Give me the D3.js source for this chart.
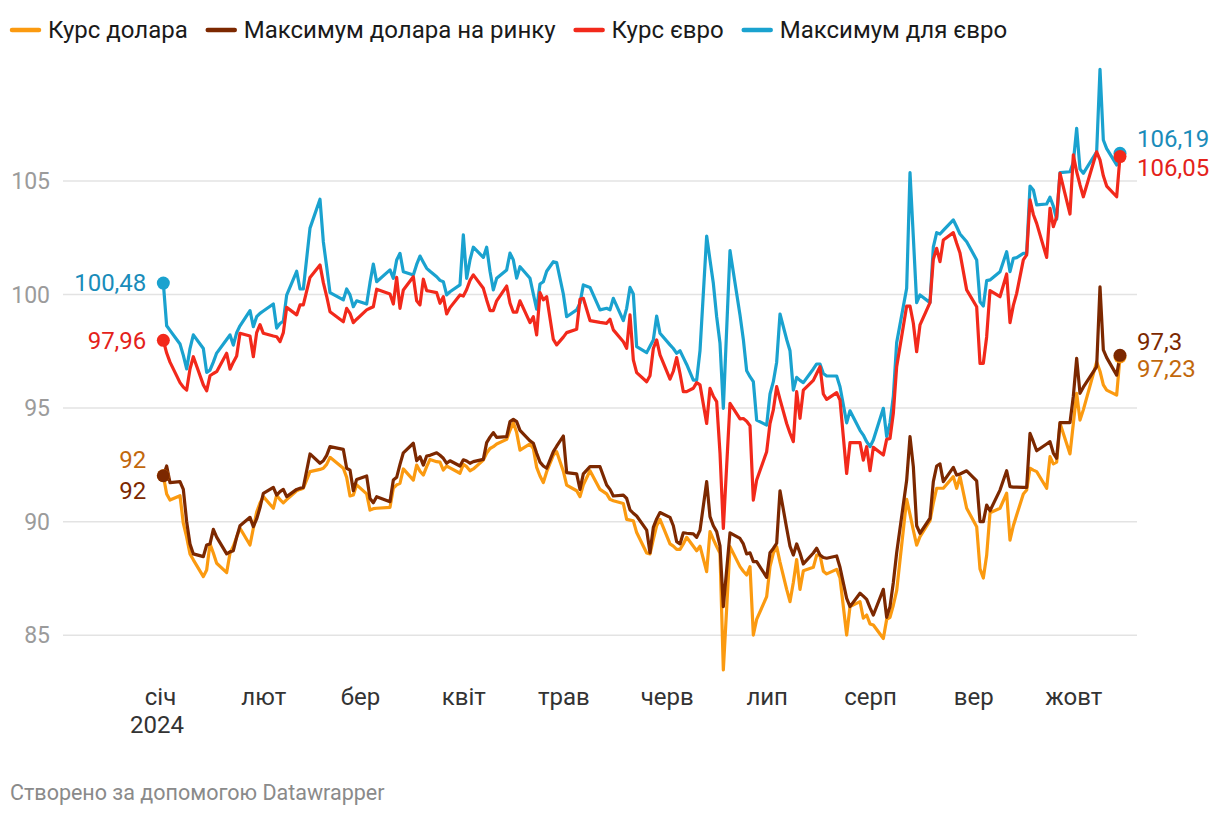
<!DOCTYPE html>
<html><head><meta charset="utf-8">
<script src="https://cdn.jsdelivr.net/npm/d3@7"></script>
<style>
body{margin:0;background:#fff;}
svg{font-family:Roboto,"Noto Sans",sans-serif;}
</style>
</head><body>
<svg id="chart" width="1220" height="816"></svg>
<script>
const dates = ["2024-01-02","2024-01-03","2024-01-04","2024-01-07","2024-01-08","2024-01-09","2024-01-10","2024-01-11","2024-01-14","2024-01-15","2024-01-16","2024-01-17","2024-01-18","2024-01-21","2024-01-22","2024-01-23","2024-01-24","2024-01-25","2024-01-28","2024-01-29","2024-01-30","2024-01-31",
"2024-02-01","2024-02-04","2024-02-05","2024-02-06","2024-02-07","2024-02-08","2024-02-11","2024-02-12","2024-02-13","2024-02-15","2024-02-18","2024-02-19","2024-02-20","2024-02-21","2024-02-25","2024-02-26","2024-02-27","2024-02-28","2024-02-29",
"2024-03-03","2024-03-04","2024-03-05","2024-03-06","2024-03-10","2024-03-11","2024-03-12","2024-03-13","2024-03-14","2024-03-17","2024-03-18","2024-03-19","2024-03-20","2024-03-21","2024-03-22","2024-03-24","2024-03-25","2024-03-26","2024-03-27","2024-03-28","2024-03-31",
"2024-04-01","2024-04-02","2024-04-03","2024-04-04","2024-04-07","2024-04-08","2024-04-09","2024-04-10","2024-04-11","2024-04-14","2024-04-15","2024-04-16","2024-04-17","2024-04-18","2024-04-21","2024-04-22","2024-04-23","2024-04-24","2024-04-25","2024-04-26","2024-04-28","2024-04-29",
"2024-05-01","2024-05-02","2024-05-05","2024-05-06","2024-05-07","2024-05-09","2024-05-12","2024-05-14","2024-05-15","2024-05-16","2024-05-19","2024-05-20","2024-05-21","2024-05-22","2024-05-23","2024-05-26","2024-05-27","2024-05-28","2024-05-29","2024-05-30",
"2024-06-02","2024-06-03","2024-06-04","2024-06-05","2024-06-06","2024-06-07","2024-06-09","2024-06-10","2024-06-11","2024-06-13","2024-06-14","2024-06-15","2024-06-16","2024-06-17","2024-06-18","2024-06-20","2024-06-23","2024-06-24","2024-06-25","2024-06-26","2024-06-27","2024-06-28",
"2024-07-01","2024-07-02","2024-07-03","2024-07-04","2024-07-05","2024-07-07","2024-07-08","2024-07-09","2024-07-10","2024-07-11","2024-07-12","2024-07-15","2024-07-16","2024-07-17","2024-07-18","2024-07-19","2024-07-22","2024-07-23","2024-07-25","2024-07-26","2024-07-29","2024-07-30","2024-07-31",
"2024-08-01","2024-08-02","2024-08-05","2024-08-06","2024-08-07","2024-08-08","2024-08-09","2024-08-12","2024-08-13","2024-08-14","2024-08-15","2024-08-16","2024-08-19","2024-08-20","2024-08-21","2024-08-22","2024-08-23","2024-08-26","2024-08-27","2024-08-28","2024-08-30",
"2024-09-02","2024-09-03","2024-09-04","2024-09-05","2024-09-06","2024-09-09","2024-09-11","2024-09-12","2024-09-13","2024-09-14","2024-09-16","2024-09-17","2024-09-18","2024-09-19","2024-09-20","2024-09-23","2024-09-24","2024-09-25","2024-09-26","2024-09-27","2024-09-30",
"2024-10-01","2024-10-02","2024-10-03","2024-10-04","2024-10-08","2024-10-09","2024-10-10","2024-10-11","2024-10-14","2024-10-15"];

// Максимум для євро
const eurMax = [100.48,98.6,98.4,97.8,97.3,96.7,97.6,98.2,97.6,96.55,96.65,97.0,97.4,98.0,98.2,97.75,98.3,98.6,99.27,98.56,99.0,99.15,
99.25,99.56,98.5,98.7,98.8,99.95,101.0,100.22,100.22,102.9,104.17,102.3,101.2,100.06,99.74,100.22,99.96,99.44,99.7,
99.56,100.5,101.32,100.54,101.06,100.69,101.5,101.79,100.98,100.84,101.3,101.67,101.4,101.13,101.0,100.76,100.6,100.54,99.96,100.1,100.4,
102.6,100.69,101.5,102.06,101.61,102.06,101.0,100.18,100.69,101.06,101.8,101.5,100.7,101.2,100.69,100.0,99.33,100.44,100.54,101.0,101.42,101.38,
100.0,99.0,99.3,99.6,100.4,100.29,99.3,99.37,99.3,99.81,98.83,99.37,100.29,100.0,97.68,97.42,97.7,97.98,99.03,98.27,
97.76,97.6,97.39,97.5,97.2,96.9,96.21,96.21,97.5,102.55,101.5,100.47,99.0,97.83,94.97,101.91,99.08,98.0,96.62,96.36,96.14,94.45,
94.23,95.6,96.14,97.0,99.12,98.0,97.5,95.77,96.33,96.2,96.1,96.7,96.92,96.92,96.5,96.39,96.39,95.92,94.33,94.86,94.0,93.79,93.5,
93.28,93.57,94.97,93.72,94.33,95.5,97.86,100.25,105.34,102.5,99.62,99.96,99.62,102.06,102.7,102.64,102.8,103.26,102.96,102.64,102.3,
101.5,99.66,99.47,100.59,100.62,100.98,101.86,100.98,101.57,101.6,101.79,101.8,104.75,104.58,103.92,103.96,104.26,103.87,103.29,105.34,105.38,
105.8,107.29,105.5,105.31,106.26,109.89,106.78,106.4,105.68,106.19];

// Курс євро
const eurRate = [97.96,97.4,97.0,96.1,95.9,95.77,96.7,97.24,96.0,95.74,96.4,96.5,96.58,97.39,96.69,97.0,97.27,98.27,98.15,97.24,98.3,98.65,
98.27,98.15,98.12,97.9,98.3,99.41,99.08,99.52,99.52,100.73,101.28,100.5,99.9,99.22,98.78,99.37,99.15,98.74,98.89,
99.3,99.37,99.44,100.21,100.0,99.56,100.73,99.37,100.18,100.76,99.7,99.52,100.65,100.15,100.12,100.06,99.59,99.88,99.12,99.4,99.96,
99.91,100.2,100.6,100.84,100.25,99.74,99.27,99.27,99.7,100.35,99.6,99.2,99.2,99.7,98.74,99.0,98.2,100.06,99.74,99.88,98.0,97.76,
98.1,98.3,98.45,99.77,99.81,98.83,98.75,98.71,98.89,98.42,97.9,97.61,99.08,97.1,96.54,96.14,96.4,97.6,97.98,97.32,
96.25,96.6,97.2,96.5,95.7,95.7,95.85,96.1,96.0,94.3,95.85,95.5,95.26,93.0,89.68,95.19,94.5,94.52,94.4,94.2,90.93,91.81,
93.06,94.3,94.9,95.92,95.36,94.3,93.87,93.5,95.7,94.53,95.77,96.2,96.5,96.8,95.6,95.36,95.66,95.33,92.1,93.46,93.46,92.69,93.28,
92.22,93.25,92.91,93.6,93.64,94.75,96.8,99.47,99.47,98.71,97.46,98.64,99.62,101.53,102.01,101.42,102.38,102.7,102.23,101.8,100.18,
99.44,96.95,96.95,98.12,100.15,99.88,100.88,98.74,99.5,100.03,101.5,101.72,104.14,103.5,103.11,101.61,103.77,102.96,103.4,105.31,103.52,
106.12,105.38,104.8,104.28,106.26,105.9,105.2,104.75,104.28,106.05];

// Максимум долара на ринку
const usdMax = [92.0,92.43,91.7,91.74,91.4,89.98,89.0,88.56,88.44,88.95,89.0,89.64,89.3,88.56,88.65,88.7,89.3,89.8,90.17,89.76,90.1,90.6,
91.23,91.49,91.15,91.3,91.4,91.08,91.4,91.45,91.49,92.96,92.55,92.66,92.9,93.28,93.16,92.33,92.25,91.34,91.84,
91.99,91.0,90.81,91.08,90.86,91.81,91.93,92.5,93.01,93.43,92.66,92.84,92.47,92.87,92.9,93.01,92.9,92.77,92.55,92.66,92.43,
92.7,92.65,92.55,92.62,92.72,93.46,93.7,93.9,93.69,93.72,94.38,94.48,94.38,94.0,93.54,93.43,92.99,92.6,92.43,92.33,93.06,93.3,
93.75,92.14,92.08,91.4,92.08,92.4,92.4,91.59,91.4,91.11,91.15,91.0,90.5,90.35,90.23,89.61,88.61,89.73,90.1,90.38,
90.17,89.8,89.1,89.0,89.49,89.47,89.44,89.29,89.6,91.74,90.2,89.8,89.54,88.91,86.24,89.49,89.24,89.0,88.56,88.61,88.22,88.22,
87.53,88.61,88.8,89.03,91.34,89.69,88.9,88.51,89.0,88.6,88.12,88.6,88.81,88.51,88.4,88.37,88.47,87.97,86.6,86.24,86.83,86.7,86.56,
86.2,85.87,87.0,85.77,86.24,87.3,88.61,91.8,93.72,92.4,89.8,89.47,90.13,91.74,92.43,92.52,91.74,92.37,92.03,92.08,92.22,
91.78,89.98,89.98,90.71,90.46,91.37,92.22,91.52,91.5,91.5,91.49,91.49,93.87,93.5,93.1,93.4,93.5,93.0,92.77,94.34,94.34,
95.5,97.17,95.63,95.9,96.8,100.32,97.54,97.2,96.43,97.3];

// Курс долара
const usdRate = [92.0,91.2,90.93,91.12,89.9,89.3,88.56,88.3,87.56,87.85,89.0,88.6,88.15,87.74,88.59,88.9,89.3,89.69,88.95,89.69,90.4,90.8,
91.08,90.57,91.15,90.95,90.81,90.95,91.34,91.4,91.45,92.18,92.28,92.33,92.5,92.81,92.33,91.93,91.11,91.15,91.6,
91.2,90.49,90.55,90.57,90.61,91.45,91.6,91.67,92.3,91.81,92.47,92.2,92.03,92.4,92.72,92.62,92.6,92.25,92.43,92.35,92.11,
92.5,92.4,92.22,92.3,92.69,93.0,93.2,93.28,93.4,93.6,94.0,94.34,93.9,93.13,93.4,93.2,92.37,91.99,91.7,92.18,92.91,93.06,
92.2,91.59,91.34,91.08,91.6,92.22,91.4,91.2,90.96,90.9,90.78,90.08,90.05,90.02,89.5,88.6,88.56,89.2,89.8,90.08,
89.0,88.9,88.76,88.76,89.0,89.29,88.9,88.7,88.9,87.78,89.54,89.2,88.88,88.59,83.45,88.88,88.0,87.8,87.63,88.0,84.99,85.68,
86.68,88.0,88.6,88.88,88.2,87.0,86.46,87.3,88.31,87.0,87.82,87.97,88.51,88.51,87.8,87.68,87.88,87.5,84.99,86.24,86.46,85.73,85.87,
85.48,85.43,84.84,85.68,85.77,86.3,86.94,90.96,90.3,89.6,88.95,89.32,90.02,90.8,91.45,91.45,91.45,91.96,91.45,91.96,90.57,
89.76,87.9,87.5,88.5,90.37,90.57,91.23,89.17,89.8,90.27,91.2,91.37,92.33,92.25,92.18,91.45,92.84,92.52,92.6,94.31,92.96,
94.3,95.63,94.45,94.9,97.01,96.6,96.0,95.77,95.55,97.23];

const yTicks = [85, 90, 95, 100, 105];
const monthLabels = ["січ","лют","бер","квіт","трав","черв","лип","серп","вер","жовт"];
const legendNames = ["Курс долара","Максимум долара на ринку","Курс євро","Максимум для євро"];

const parse = d3.timeParse("%Y-%m-%d");
const D = dates.map(parse);

const series = [
  {name: legendNames[3], values: eurMax, color: "#1aa2cf", label: "#1a8cba", startOff: 0, endOff: -15},
  {name: legendNames[2], values: eurRate, color: "#f2291b", label: "#e4221a", startOff: 0, endOff: 11},
  {name: legendNames[0], values: usdRate, color: "#fb9a10", label: "#c2680c", startOff: -16, endOff: 12},
  {name: legendNames[1], values: usdMax, color: "#7c2800", label: "#7c2800", startOff: 15, endOff: -14}
];

const svg = d3.select("#chart");

const x = d3.scaleTime()
  .domain([new Date(2024,0,1), new Date(2024,9,15)])
  .range([160, 1120]);
const y = d3.scaleLinear().domain([85, 105]).range([634.8, 180.4]);

const gridLeft = 63, gridRight = 1137;

// Y axis with gridlines
const yAxis = svg.append("g")
  .attr("transform", `translate(${gridLeft},0)`)
  .call(d3.axisLeft(y).tickValues(yTicks).tickSize(-(gridRight - gridLeft)).tickPadding(13).tickFormat(d => String(d)));
yAxis.select(".domain").remove();
yAxis.selectAll(".tick line").attr("stroke", "#e3e3e3").attr("stroke-width", 1.5);
yAxis.selectAll(".tick text")
  .attr("fill", "#9b9b9b").attr("font-size", 23).attr("font-family", "Roboto,sans-serif")
  .attr("dy", "0.35em");

// X axis
const months = d3.timeMonth.range(new Date(2024,0,1), new Date(2024,9,2));
const xAxis = svg.append("g")
  .attr("transform", "translate(0,680)")
  .call(d3.axisBottom(x).tickValues(months).tickSize(0).tickPadding(8).tickFormat((d,i) => monthLabels[i]));
xAxis.select(".domain").remove();
xAxis.selectAll(".tick text")
  .attr("fill", "#333").attr("font-size", 24).attr("font-family", "Roboto,sans-serif");
svg.append("text")
  .attr("x", x(months[0]) - 3).attr("y", 733)
  .attr("text-anchor", "middle").attr("fill", "#333")
  .attr("font-size", 24).text("2024");

// Lines
const line = d3.line()
  .x((d, i) => x(D[i]))
  .y(d => y(d));

const g = svg.append("g");
series.forEach(s => {
  g.append("path")
    .attr("d", line(s.values))
    .attr("fill", "none")
    .attr("stroke", s.color)
    .attr("stroke-width", 3.2)
    .attr("stroke-linejoin", "round")
    .attr("stroke-linecap", "round");
});

// Dots and value labels
const fmt = v => String(v).replace(".", ",");
series.forEach(s => {
  const n = s.values.length;
  const pts = [{i: 0, off: s.startOff, anchor: "end", dx: -17}, {i: n - 1, off: s.endOff, anchor: "start", dx: 17}];
  pts.forEach(p => {
    const cx = x(D[p.i]), cy = y(s.values[p.i]);
    g.append("circle").attr("cx", cx).attr("cy", cy).attr("r", 6.5).attr("fill", s.color);
    svg.append("text")
      .attr("x", cx + p.dx).attr("y", cy + p.off)
      .attr("dy", "0.35em")
      .attr("text-anchor", p.anchor)
      .attr("fill", s.label)
      .attr("font-size", 24)
      .text(fmt(s.values[p.i]));
  });
});

// Legend
const legendOrder = [
  {name: legendNames[0], color: "#fb9a10"},
  {name: legendNames[1], color: "#7c2800"},
  {name: legendNames[2], color: "#f2291b"},
  {name: legendNames[3], color: "#1aa2cf"}
];
let lx = 12;
const lg = svg.append("g");
legendOrder.forEach(item => {
  lg.append("line").attr("x1", lx).attr("x2", lx + 27).attr("y1", 30).attr("y2", 30)
    .attr("stroke", item.color).attr("stroke-width", 4.5).attr("stroke-linecap", "round");
  const t = lg.append("text").attr("x", lx + 36).attr("y", 30).attr("dy", "0.35em")
    .attr("fill", "#1a1a1a").attr("font-size", 24).text(item.name);
  lx += 36 + t.node().getComputedTextLength() + 20;
});

// Footer
svg.append("text").attr("x", 10).attr("y", 800)
  .attr("fill", "#8a8a8a").attr("font-size", 21.5)
  .text("Створено за допомогою Datawrapper");
</script>
</body></html>
